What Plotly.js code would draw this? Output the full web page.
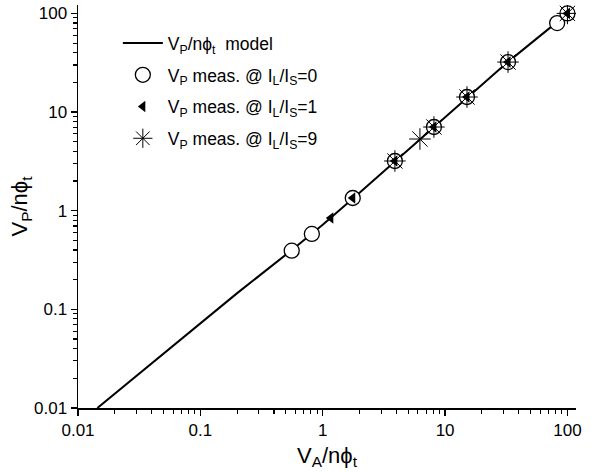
<!DOCTYPE html>
<html>
<head>
<meta charset="utf-8">
<script src="https://cdn.plot.ly/plotly-3.0.1.min.js"></script>
<style>html,body{margin:0;padding:0;background:#fff;}#chart{width:595px;height:472px;}</style>
</head>
<body>
<div id="chart"></div>
<script>
// Model curve
const modelX = [0.0144, 0.05, 0.2, 0.56, 1.0, 2.0, 4.0, 8.0, 15.0, 32.0, 100.0];
const modelY = [0.01, 0.0355, 0.146, 0.40, 0.72, 1.52, 3.25, 6.95, 14.0, 31.6, 99.5];
// Measured @ IL/IS = 0 (open circles)
const c0X = [0.558, 0.815, 1.76, 3.89, 8.11, 15.1, 32.7, 82.4, 100];
const c0Y = [0.393, 0.581, 1.345, 3.19, 7.05, 14.2, 32.1, 79.8, 100];
// Measured @ IL/IS = 1 (filled left triangles)
const c1X = [1.165, 1.76, 3.89, 8.11, 15.1, 32.7, 100];
const c1Y = [0.843, 1.345, 3.19, 7.05, 14.2, 32.1, 100];
// Measured @ IL/IS = 9 (asterisks)
const c9X = [3.89, 6.23, 8.11, 15.1, 32.7, 100];
const c9Y = [3.19, 5.33, 7.05, 14.2, 32.1, 100];

const tickVals = [0.01, 0.1, 1, 10, 100];
const tickText = ['0.01', '0.1', '1', '10', '100'];

const FONT = 'Liberation Sans, Arial, sans-serif';
const phi = '\u03D5';
const traces = [
  {x: modelX, y: modelY, mode: 'lines', type: 'scatter', legendgroup: 'a',
   line: {color: '#000', width: 2},
   name: 'V<sub>P</sub>/n' + phi + '<sub>t</sub>  model'},
  {x: c0X, y: c0Y, mode: 'markers', type: 'scatter', legendgroup: 'b',
   marker: {symbol: 'circle', size: 15, color: '#fff', line: {color: '#000', width: 1.3}},
   name: 'V<sub>P</sub> meas. @ I<sub>L</sub>/I<sub>S</sub>=0'},
  {x: c1X, y: c1Y, mode: 'markers', type: 'scatter', legendgroup: 'c',
   marker: {symbol: 'triangle-left', size: 10, color: '#000', line: {width: 0}},
   name: 'V<sub>P</sub> meas. @ I<sub>L</sub>/I<sub>S</sub>=1'},
  {x: c9X, y: c9Y, mode: 'markers', type: 'scatter', legendgroup: 'd',
   marker: {symbol: 'asterisk-open', size: 18, color: '#000', line: {color: '#000', width: 1}},
   name: 'V<sub>P</sub> meas. @ I<sub>L</sub>/I<sub>S</sub>=9'}
];

const axisCommon = {
  type: 'log', showgrid: false, zeroline: false,
  showline: true, linecolor: '#000', linewidth: 1.5,
  ticks: 'outside', ticklen: 6, tickwidth: 1.3, tickcolor: '#000',
  tickmode: 'array', tickvals: tickVals, ticktext: tickText,
  tickfont: {family: FONT, size: 17, color: '#000'},
  minor: {ticks: 'outside', ticklen: 4, tickwidth: 1.1, tickcolor: '#000', dtick: 'D1', showgrid: false},
  mirror: false
};

const layout = {
  width: 595, height: 472,
  margin: {l: 78, r: 19, t: 5, b: 64},
  paper_bgcolor: '#fff', plot_bgcolor: '#fff',
  showlegend: true,
  legend: {x: 0.08, y: 0.95, xanchor: 'left', yanchor: 'top',
    traceorder: 'grouped', tracegroupgap: 6, itemwidth: 40,
    bgcolor: 'rgba(0,0,0,0)', borderwidth: 0,
    font: {family: FONT, size: 17.5, color: '#000'}},
  xaxis: Object.assign({}, axisCommon, {
    range: [-2, 2.07],
    title: {text: 'V<sub>A</sub>/n' + phi + '<sub>t</sub>', standoff: 8,
      font: {family: FONT, size: 22, color: '#000'}}
  }),
  yaxis: Object.assign({}, axisCommon, {
    range: [-2, 2.085],
    title: {text: 'V<sub>P</sub>/n' + phi + '<sub>t</sub>', standoff: 0,
      font: {family: FONT, size: 22, color: '#000'}}
  })
};

Plotly.newPlot('chart', traces, layout, {displayModeBar: false, staticPlot: true});
</script>
</body>
</html>
